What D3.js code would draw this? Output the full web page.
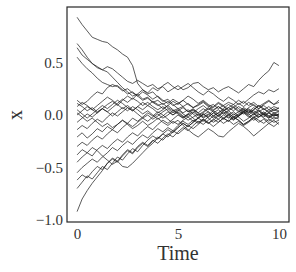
<!DOCTYPE html>
<html><head><meta charset="utf-8">
<script src="https://cdn.jsdelivr.net/npm/d3@7"></script>
<style>body{margin:0;background:#fff}svg{display:block}</style>
</head><body><svg id="c" width="296" height="272"></svg>
<script>
const times = d3.range(0, 41).map(i => i * 0.25);
const xTicks = [0, 5, 10];
const yTicks = [-1.0, -0.5, 0.0, 0.5];
const xLabel = "Time";
const yLabel = "x";

const pathA = [0.93,0.86,0.80,0.74,0.72,0.70,0.69,0.65,0.62,0.58,0.55,0.47,0.30,0.24,0.20,0.22,0.17,0.13,0.15,0.10,0.06,0.08,0.03,0.05,0.00,0.03,0.07,0.04,0.08,0.05,0.02,-0.02,0.01,0.05,0.03,0.07,0.04,0.00,0.02,-0.01,0.01];
const pathB = [0.68,0.62,0.55,0.49,0.45,0.43,0.46,0.44,0.40,0.36,0.32,0.30,0.33,0.30,0.27,0.29,0.25,0.27,0.22,0.25,0.28,0.24,0.26,0.30,0.31,0.27,0.24,0.26,0.22,0.25,0.27,0.24,0.21,0.25,0.29,0.27,0.33,0.38,0.42,0.50,0.47];
const pathC = [0.64,0.57,0.53,0.49,0.46,0.43,0.41,0.36,0.31,0.26,0.22,0.18,0.20,0.15,0.17,0.12,0.14,0.10,0.13,0.09,0.11,0.14,0.10,0.07,0.09,0.12,0.08,0.10,0.06,0.09,0.12,0.10,0.14,0.11,0.15,0.19,0.22,0.20,0.24,0.22,0.25];
const pathD = [0.55,0.49,0.44,0.40,0.35,0.31,0.29,0.27,0.28,0.24,0.20,0.22,0.18,0.14,0.16,0.12,0.09,0.11,0.07,0.04,0.06,0.02,0.05,0.01,-0.03,0.00,0.03,-0.01,0.02,0.05,0.01,-0.02,0.00,0.04,0.01,-0.03,0.00,0.03,-0.01,0.02,0.00];
const pathE = [0.14,0.10,0.13,0.18,0.22,0.20,0.26,0.29,0.27,0.23,0.25,0.21,0.18,0.22,0.19,0.15,0.18,0.14,0.11,0.15,0.12,0.08,0.11,0.07,0.10,0.13,0.09,0.05,0.08,0.04,0.07,0.10,0.06,0.03,0.07,0.10,0.06,0.09,0.05,0.08,0.06];
const pathF = [0.11,0.08,0.04,0.07,0.03,0.06,0.10,0.13,0.09,0.14,0.18,0.15,0.20,0.24,0.21,0.26,0.23,0.28,0.31,0.27,0.24,0.27,0.30,0.26,0.22,0.19,0.23,0.20,0.16,0.13,0.17,0.14,0.10,0.13,0.09,0.12,0.08,0.11,0.14,0.10,0.12];
const pathG = [0.08,0.12,0.09,0.05,0.02,0.06,0.03,-0.01,0.03,0.07,0.04,0.08,0.05,0.01,0.04,0.00,-0.04,-0.01,0.03,0.00,0.04,0.07,0.03,0.06,0.02,-0.02,0.01,-0.03,0.00,0.04,0.07,0.04,0.08,0.05,0.02,0.05,0.09,0.06,0.03,0.06,0.04];
const pathH = [0.05,0.01,-0.03,0.01,0.05,0.09,0.06,0.10,0.14,0.11,0.07,0.04,0.08,0.12,0.09,0.13,0.10,0.06,0.09,0.05,0.02,-0.02,0.01,-0.03,-0.07,-0.04,-0.08,-0.05,-0.01,-0.04,0.00,0.03,-0.01,0.02,-0.02,0.01,0.04,0.00,-0.03,0.01,-0.02];
const pathI = [0.00,0.04,0.08,0.05,0.09,0.13,0.17,0.14,0.10,0.06,0.09,0.05,0.01,-0.03,0.00,-0.04,-0.01,0.03,0.06,0.02,0.05,0.01,-0.02,0.02,0.06,0.09,0.05,0.08,0.12,0.09,0.05,0.08,0.04,0.01,0.05,0.02,-0.02,0.01,0.05,0.02,0.03];
const pathJ = [-0.07,-0.03,0.01,-0.02,0.02,0.06,0.03,0.07,0.11,0.15,0.12,0.16,0.13,0.09,0.12,0.08,0.05,0.08,0.04,0.00,0.03,-0.01,-0.05,-0.02,0.01,-0.03,0.00,0.04,0.01,-0.03,-0.06,-0.02,-0.05,-0.09,-0.06,-0.02,-0.05,-0.08,-0.04,-0.07,-0.05];
const pathK = [-0.14,-0.10,-0.13,-0.08,-0.04,-0.07,-0.02,0.02,-0.01,0.03,0.07,0.04,0.08,0.05,0.09,0.06,0.02,0.05,0.09,0.13,0.10,0.14,0.18,0.15,0.11,0.14,0.10,0.07,0.11,0.08,0.04,0.07,0.11,0.08,0.12,0.09,0.06,0.10,0.13,0.10,0.14];
const pathL = [-0.21,-0.17,-0.22,-0.18,-0.13,-0.16,-0.11,-0.14,-0.09,-0.05,-0.08,-0.03,-0.06,-0.02,0.02,-0.01,0.03,0.00,-0.04,-0.08,-0.05,-0.10,-0.14,-0.18,-0.21,-0.17,-0.13,-0.16,-0.20,-0.21,-0.16,-0.12,-0.08,-0.11,-0.15,-0.20,-0.16,-0.12,-0.08,-0.11,-0.07];
const pathM = [-0.30,-0.26,-0.29,-0.24,-0.20,-0.23,-0.18,-0.14,-0.17,-0.12,-0.08,-0.11,-0.07,-0.03,-0.06,-0.02,0.01,-0.03,0.00,0.04,0.01,-0.03,0.00,0.03,-0.01,0.02,0.06,0.03,-0.01,0.02,-0.02,-0.05,-0.01,0.03,0.00,0.04,0.01,-0.02,0.02,-0.01,0.01];
const pathN = [-0.38,-0.33,-0.36,-0.31,-0.34,-0.39,-0.43,-0.47,-0.44,-0.49,-0.50,-0.46,-0.41,-0.36,-0.31,-0.27,-0.22,-0.18,-0.21,-0.16,-0.12,-0.08,-0.11,-0.07,-0.03,-0.06,-0.02,0.02,-0.01,0.03,0.00,-0.04,-0.01,0.03,0.06,0.02,0.05,0.01,-0.02,0.01,-0.01];
const pathO = [-0.45,-0.40,-0.36,-0.39,-0.33,-0.29,-0.32,-0.27,-0.23,-0.26,-0.21,-0.17,-0.20,-0.15,-0.11,-0.14,-0.09,-0.05,-0.08,-0.04,0.00,-0.03,0.01,0.05,0.02,0.06,0.03,-0.01,0.02,0.06,0.10,0.07,0.03,0.06,0.02,0.05,0.09,0.05,0.08,0.04,0.07];
const pathP = [-0.55,-0.50,-0.46,-0.42,-0.45,-0.40,-0.36,-0.31,-0.34,-0.29,-0.25,-0.28,-0.23,-0.19,-0.22,-0.17,-0.13,-0.16,-0.12,-0.15,-0.10,-0.06,-0.09,-0.05,-0.08,-0.04,-0.07,-0.11,-0.07,-0.03,-0.06,-0.02,-0.05,-0.09,-0.06,-0.02,0.01,-0.03,-0.06,-0.02,-0.04];
const pathQ = [-0.62,-0.57,-0.60,-0.54,-0.49,-0.52,-0.46,-0.41,-0.44,-0.38,-0.33,-0.36,-0.30,-0.26,-0.29,-0.24,-0.27,-0.22,-0.18,-0.21,-0.16,-0.12,-0.15,-0.10,-0.06,-0.09,-0.05,-0.01,-0.04,0.00,-0.03,0.01,-0.02,-0.06,-0.03,0.01,-0.02,0.02,-0.01,-0.04,-0.02];
const pathR = [-0.70,-0.64,-0.58,-0.61,-0.55,-0.49,-0.52,-0.46,-0.40,-0.43,-0.37,-0.32,-0.35,-0.29,-0.24,-0.20,-0.23,-0.18,-0.14,-0.17,-0.12,-0.08,-0.11,-0.07,-0.03,0.01,-0.02,0.02,0.05,0.01,0.04,0.00,0.03,0.07,0.04,0.00,0.03,0.06,0.02,0.05,0.03];
const pathS = [-0.92,-0.80,-0.72,-0.65,-0.59,-0.53,-0.46,-0.42,-0.45,-0.39,-0.34,-0.37,-0.31,-0.27,-0.30,-0.25,-0.21,-0.24,-0.19,-0.15,-0.18,-0.14,-0.10,-0.13,-0.09,-0.05,-0.08,-0.04,-0.07,-0.03,0.00,-0.04,-0.01,0.03,-0.01,-0.05,-0.02,0.01,-0.03,0.00,-0.01];
const pathT = [0.02,-0.02,-0.06,-0.03,-0.07,-0.11,-0.08,-0.12,-0.09,-0.05,-0.09,-0.13,-0.10,-0.06,-0.10,-0.07,-0.03,-0.07,-0.10,-0.06,-0.09,-0.05,-0.02,-0.06,-0.03,0.01,-0.03,-0.07,-0.04,-0.08,-0.05,-0.09,-0.06,-0.10,-0.07,-0.03,-0.07,-0.04,-0.08,-0.05,-0.09];

const series = [pathA,pathB,pathC,pathD,pathE,pathF,pathG,pathH,pathI,pathJ,pathK,pathL,pathM,pathN,pathO,pathP,pathQ,pathR,pathS,pathT];

const svg = d3.select("#c");
const L = 67, R = 289, T = 7, B = 222;
const x = d3.scaleLinear().domain([-0.5, 10.5]).range([L, R]);
const y = d3.scaleLinear().domain([-1.019, 1.028]).range([B, T]);
const font = "'Liberation Serif', 'DejaVu Serif', serif";

const line = d3.line().x((d, i) => x(times[i])).y(d => y(d));
svg.append("g").selectAll("path").data(series).join("path")
  .attr("d", line).attr("fill", "none")
  .attr("stroke", "#1a1a1a").attr("stroke-width", 0.9).attr("stroke-opacity", 0.8)
  .attr("stroke-linejoin", "round");

svg.append("rect").attr("x", L).attr("y", T).attr("width", R - L).attr("height", B - T)
  .attr("fill", "none").attr("stroke", "#262626").attr("stroke-width", 1.2);

const xa = svg.append("g").attr("transform", `translate(0,${B})`)
  .call(d3.axisBottom(x).tickValues(xTicks).tickSize(0).tickPadding(6).tickFormat(d3.format("d")));
const ya = svg.append("g").attr("transform", `translate(${L},0)`)
  .call(d3.axisLeft(y).tickValues(yTicks).tickSize(0).tickPadding(4).tickFormat(d3.format(".1f")));
[xa, ya].forEach(g => {
  g.select(".domain").remove();
  g.selectAll("text").attr("font-family", font).attr("font-size", 15).attr("fill", "#333");
});

svg.append("text").attr("x", x(5)).attr("y", 260).attr("text-anchor", "middle")
  .attr("font-family", font).attr("font-size", 20).attr("fill", "#333").text(xLabel);
svg.append("text").attr("transform", `translate(22,${y(0)}) rotate(-90)`).attr("text-anchor", "middle")
  .attr("font-family", font).attr("font-size", 20).attr("fill", "#333").text(yLabel);
</script></body></html>
